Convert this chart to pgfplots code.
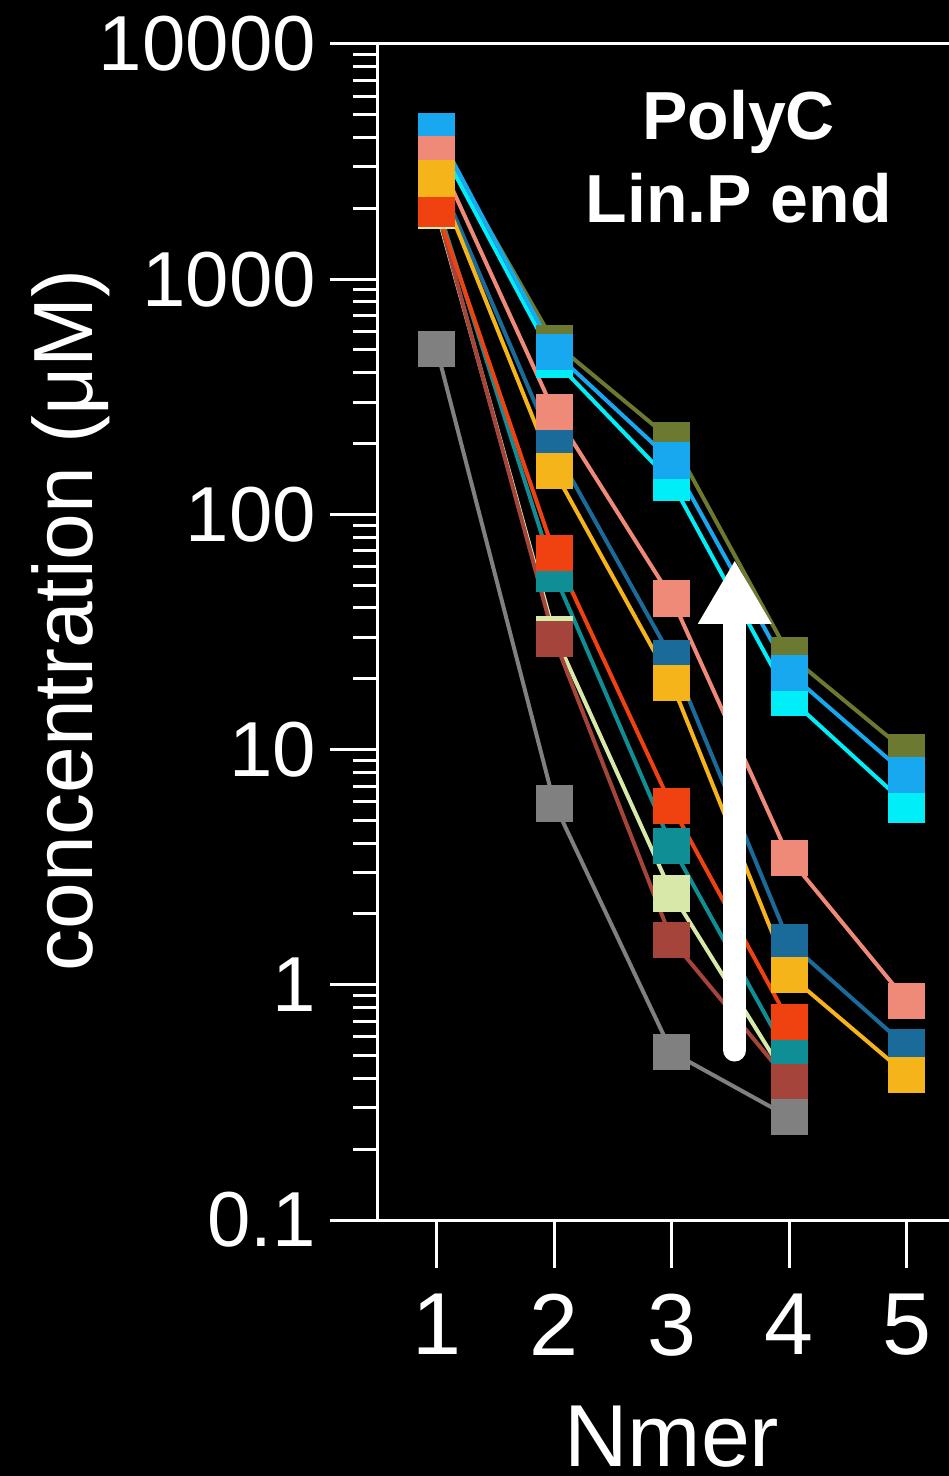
\documentclass[border=0pt]{standalone}
\usepackage{fontspec}
\setmainfont{Liberation Sans}
\usepackage{pgfplots}
\pgfplotsset{compat=1.18}
\usepackage{pgfplotstable}
\usetikzlibrary{arrows.meta}

\definecolor{cOl}{HTML}{6B7A30}
\definecolor{cCy}{HTML}{00EEF8}
\definecolor{cBl}{HTML}{18A8F0}
\definecolor{cSt}{HTML}{1A6A9A}
\definecolor{cSa}{HTML}{F08A78}
\definecolor{cTe}{HTML}{108E96}
\definecolor{cRe}{HTML}{F04210}
\definecolor{cPa}{HTML}{D8E8A8}
\definecolor{cBr}{HTML}{A4443A}
\definecolor{cGr}{HTML}{808080}
\definecolor{cYe}{HTML}{F5B41A}

\pgfplotstableread{
x ol cy bl st sa te re pa br gr ye
1 4000 3900 4270 2800 3380 2100 1990 1950 2000 505 2680
2 536 453 490 192 272 55.8 68.5 31 29.5 5.9 153
3 207 137 169 24.5 44 3.89 5.75 2.45 1.55 0.517 19.2
4 25.2 16.6 21.2 1.51 3.46 0.489 0.695 0.386 0.386 0.274 1.10
5 9.77 5.81 7.8 0.545 0.853 nan nan nan nan nan 0.414
}\data

\pgfplotsset{
  ln/.style={line width=1pt, no markers},
  mk/.style={only marks, mark=square*, mark size=4.375pt, mark options={draw=none}},
}

\begin{document}
\begin{tikzpicture}
\fill[black] (-94.5pt,-64pt) rectangle (142.75pt,305pt);
\begin{axis}[
  at={(0,0)}, anchor=south west,
  scale only axis,
  width=146.875pt, height=294pt,
  xmin=0.5, xmax=5.5,
  ymode=log, ymin=0.1, ymax=10000,
  xtick={1,2,3,4,5}, xticklabels={1,2,3,4,5},
  ytick={0.1,1,10,100,1000,10000},
  yticklabels={0.1,1,10,100,1000,10000},
  tick pos=left,
  tick align=outside,
  major tick length=12pt,
  minor tick length=6.25pt,
  axis line style={white, line width=0.75pt},
  every tick/.style={white, line width=0.75pt},
  minor tick style={white, line width=0.75pt},
  xticklabel style={white, font=\fontsize{22}{26}\selectfont, yshift=-3pt},
  yticklabel style={white, font=\fontsize{19.5}{23}\selectfont},
  xlabel={Nmer},
  ylabel={concentration (μM)},
  xlabel style={white, font=\fontsize{22}{26}\selectfont, inner sep=0pt, at={(axis description cs:0.5,0)}, anchor=base, yshift=-61.5pt},
  ylabel style={white, font=\fontsize{21}{25}\selectfont, at={(axis description cs:-0.4851,0.5102)}, anchor=base},
  clip=false,
]
\addplot[cOl, ln] table[x=x,y=ol]{\data};
\addplot[cCy, ln] table[x=x,y=cy]{\data};
\addplot[cBl, ln] table[x=x,y=bl]{\data};
\addplot[cSt, ln] table[x=x,y=st]{\data};
\addplot[cSa, ln] table[x=x,y=sa]{\data};
\addplot[cTe, ln] table[x=x,y=te]{\data};
\addplot[cPa, ln] table[x=x,y=pa]{\data};
\addplot[cBr, ln] table[x=x,y=br]{\data};
\addplot[cGr, ln] table[x=x,y=gr]{\data};
\addplot[cRe, ln] table[x=x,y=re]{\data};
\addplot[cYe, ln] table[x=x,y=ye]{\data};
\addplot[cOl, mk] table[x=x,y=ol]{\data};
\addplot[cCy, mk] table[x=x,y=cy]{\data};
\addplot[cBl, mk] table[x=x,y=bl]{\data};
\addplot[cSt, mk] table[x=x,y=st]{\data};
\addplot[cSa, mk] table[x=x,y=sa]{\data};
\addplot[cTe, mk] table[x=x,y=te]{\data};
\addplot[cPa, mk] table[x=x,y=pa]{\data};
\addplot[cBr, mk] table[x=x,y=br]{\data};
\addplot[cGr, mk] table[x=x,y=gr]{\data};
\addplot[cRe, mk] table[x=x,y=re]{\data};
\addplot[cYe, mk] table[x=x,y=ye]{\data};
\draw[white, line width=5.75pt, line cap=round, -{Triangle[width=17.25pt, length=16pt]}]
  (axis cs:3.536,0.528) -- (axis cs:3.536,64);
\node[white, align=center, font=\bfseries\fontsize{17}{20.75}\selectfont]
  at (rel axis cs:0.614,0.904) {PolyC\\Lin.P end};
\end{axis}
\pgfresetboundingbox
\path[use as bounding box] (-94.5pt,-64pt) rectangle (142.75pt,305pt);
\end{tikzpicture}
\end{document}
